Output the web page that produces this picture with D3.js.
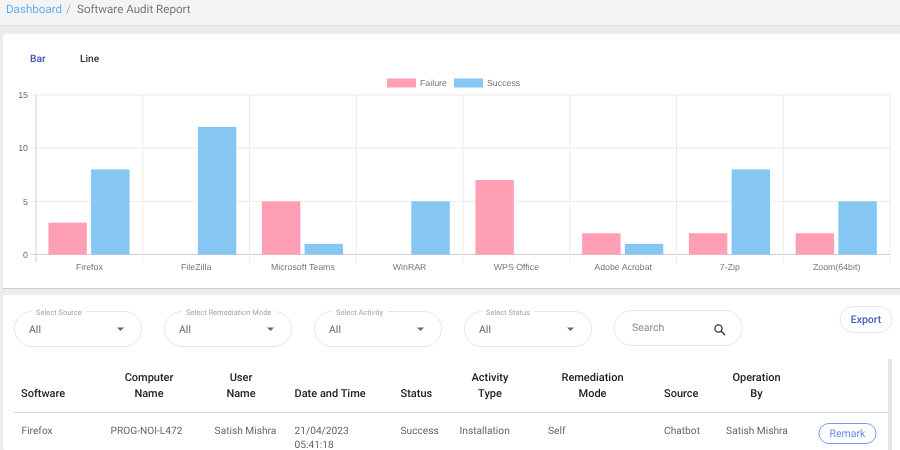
<!DOCTYPE html>
<html><head><meta charset="utf-8">
<script src="https://cdnjs.cloudflare.com/ajax/libs/d3/7.8.5/d3.min.js"></script>
<style>
html,body{margin:0;padding:0;background:#e9edf0;overflow:hidden}
svg{display:block;font-family:Roboto,sans-serif;filter:blur(.3px);text-rendering:geometricPrecision}
.arial{font-family:"Liberation Sans",Arial,sans-serif}
</style></head><body>
<svg id="c" width="900" height="450"></svg>
<script>
const categories=["Firefox","FileZilla","Microsoft Teams","WinRAR","WPS Office","Adobe Acrobat","7-Zip","Zoom(64bit)"];
const seriesNames=["Failure","Success"];
const failure=[3,0,5,0,7,2,2,2];
const success=[8,12,1,5,0,1,8,5];
const yTicks=[0,5,10,15];
const filters=[["Select Source",14,128,59],["Select Remediation Mode",164,128,223],["Select Activity",314,128,373],["Select Status",464,128,508]];
const headers=[[["Software"],21,"start"],[["Computer","Name"],149,"middle"],[["User","Name"],241,"middle"],[["Date and Time"],294.5,"start"],[["Status"],400.5,"start"],[["Activity","Type"],490,"middle"],[["Remediation","Mode"],592.5,"middle"],[["Source"],664,"start"],[["Operation","By"],756.5,"middle"]];
const row=[["Firefox",21.5,"start"],["PROG-NOI-L472",146.5,"middle"],["Satish Mishra",245.5,"middle"],["Success",400.5,"start"],["Installation",459.5,"start"],["Self",548,"start"],["Chatbot",664,"start"],["Satish Mishra",757,"middle"]];

const svg=d3.select("#c");
const colors=d3.scaleOrdinal(seriesNames,["#ff9fb5","#85c6f3"]);
const txt=(x,y,s,size,fill,anchor="start",weight=400)=>svg.append("text").attr("x",x).attr("y",y).attr("font-size",size).attr("fill",fill).attr("text-anchor",anchor).attr("font-weight",weight).text(s);

// page chrome
svg.append("rect").attr("width",900).attr("height",25).attr("fill","#f4f4f4");
svg.append("rect").attr("y",25).attr("width",900).attr("height",1).attr("fill","#dde1e4");
svg.append("rect").attr("x",3).attr("y",34).attr("width",900).attr("height",255).attr("rx",3).attr("fill","#fff");
svg.append("rect").attr("x",3).attr("y",288).attr("width",900).attr("height",1).attr("fill","#c8ccd0");
svg.append("rect").attr("x",3).attr("y",295).attr("width",900).attr("height",155).attr("rx",3).attr("fill","#fff");
txt(6,13,"Dashboard",11.6,"#5fb0f2");
txt(66,13,"/",11.6,"#aaa");
txt(77,13,"Software Audit Report",11.6,"#777");
txt(30,62,"Bar",10.2,"#3f51b5",undefined,500);
txt(80,62,"Line",10.2,"#333",undefined,500);

// chart
const m={l:36,r:890,t:95,b:254.5};
const x0=d3.scaleBand().domain(categories).range([m.l,m.r]);
const bw=x0.bandwidth();
const x1=d3.scaleBand().domain(seriesNames).range([bw*.1,bw*.9]);
const y=d3.scaleLinear().domain([0,15]).range([m.b,m.t]);
const grid="#ebebeb";
const g=svg.append("g");
g.selectAll("line.h").data(yTicks).join("line").attr("x1",m.l-5).attr("x2",m.r).attr("y1",d=>y(d)).attr("y2",d=>y(d)).attr("stroke",d=>d===0?"#cfcfcf":grid);
const vs=categories.map(c=>x0(c)).concat([m.r]);
g.selectAll("line.v").data(vs).join("line").attr("x1",d=>d).attr("x2",d=>d).attr("y1",m.t).attr("y2",m.b+8).attr("stroke",(d,i)=>i===0?"#cfcfcf":grid);
const bars=[["Failure",failure],["Success",success]];
bars.forEach(([name,vals])=>{
  g.selectAll("rect."+name).data(vals).join("rect").attr("class",name)
   .attr("x",(d,i)=>x0(categories[i])+x1(name)+x1.bandwidth()*.05-.4)
   .attr("width",x1.bandwidth()*.9)
   .attr("y",d=>y(d)).attr("height",d=>y(0)-y(d)).attr("fill",colors(name));
});
g.selectAll("text.yt").data(yTicks).join("text").attr("class","arial").attr("x",m.l-8).attr("y",d=>y(d)+3.2).attr("text-anchor","end").attr("font-size",8.8).attr("fill","#666").text(d=>d);
g.selectAll("text.xt").data(categories).join("text").attr("class","arial").attr("x",d=>x0(d)+bw/2).attr("y",270).attr("text-anchor","middle").attr("font-size",8.8).attr("fill","#777").text(d=>d);
// legend
svg.append("rect").attr("x",387).attr("y",78.5).attr("width",29).attr("height",9).attr("fill",colors("Failure"));
txt(420,86,"Failure",8.8,"#777").attr("class","arial");
svg.append("rect").attr("x",454).attr("y",78.5).attr("width",29).attr("height",9).attr("fill",colors("Success"));
txt(487,86,"Success",8.8,"#777").attr("class","arial");

// filters
const border="#e4e6e9";
filters.forEach(([lab,x,w,lx])=>{
  svg.append("rect").attr("x",x+.5).attr("y",311.5).attr("width",w-1).attr("height",35).attr("rx",17.5).attr("fill","#fff").attr("stroke",border);
  const t=txt(x+22,315,lab,7.5,"#a5a5a5");
  const len=t.node().getComputedTextLength();
  svg.append("rect").attr("x",x+18).attr("y",309).attr("width",len+8).attr("height",5).attr("fill","#fff");
  t.raise();
  txt(x+15,333,"All",10.5,"#666");
  svg.append("path").attr("d",`M${x+103},327.5h7l-3.5,3.5z`).attr("fill","#666");
});
// search
svg.append("rect").attr("x",614).attr("y",310.5).attr("width",128).attr("height",35).attr("rx",17.5).attr("fill","#fff").attr("stroke",border);
txt(632,331,"Search",10.5,"#8a8a8a");
svg.append("circle").attr("cx",718.5).attr("cy",328.5).attr("r",3.6).attr("fill","none").attr("stroke","#333").attr("stroke-width",1.3);
svg.append("line").attr("x1",721).attr("y1",331).attr("x2",725).attr("y2",335).attr("stroke","#333").attr("stroke-width",1.5);
// export
svg.append("rect").attr("x",840).attr("y",306.5).attr("width",52).attr("height",26).attr("rx",13).attr("fill","#fff").attr("stroke",border);
txt(866,323,"Export",10.5,"#4a5cc0","middle",500);

// table
headers.forEach(([lines,x,a])=>{
  const base=396.5;
  lines.forEach((l,i)=>txt(x,base-(lines.length-1-i)*15.5,l,11,"#222",a,500));
});
svg.append("rect").attr("x",14).attr("y",412).attr("width",874).attr("height",1).attr("fill","#d9d9d9");
row.forEach(([s,x,a])=>txt(x,434,s,10.2,"#666",a));
txt(294.5,434,"21/04/2023",10.2,"#666");
txt(294.5,448,"05:41:18",10.2,"#666");
svg.append("rect").attr("x",819).attr("y",423.5).attr("width",57).attr("height",20).attr("rx",10).attr("fill","#fff").attr("stroke","#6f9ff0");
txt(847.5,437,"Remark",10.5,"#5f8fe8","middle");
svg.append("rect").attr("x",888).attr("y",359).attr("width",4).attr("height",91).attr("fill","#e6e6e6");
</script></body></html>
